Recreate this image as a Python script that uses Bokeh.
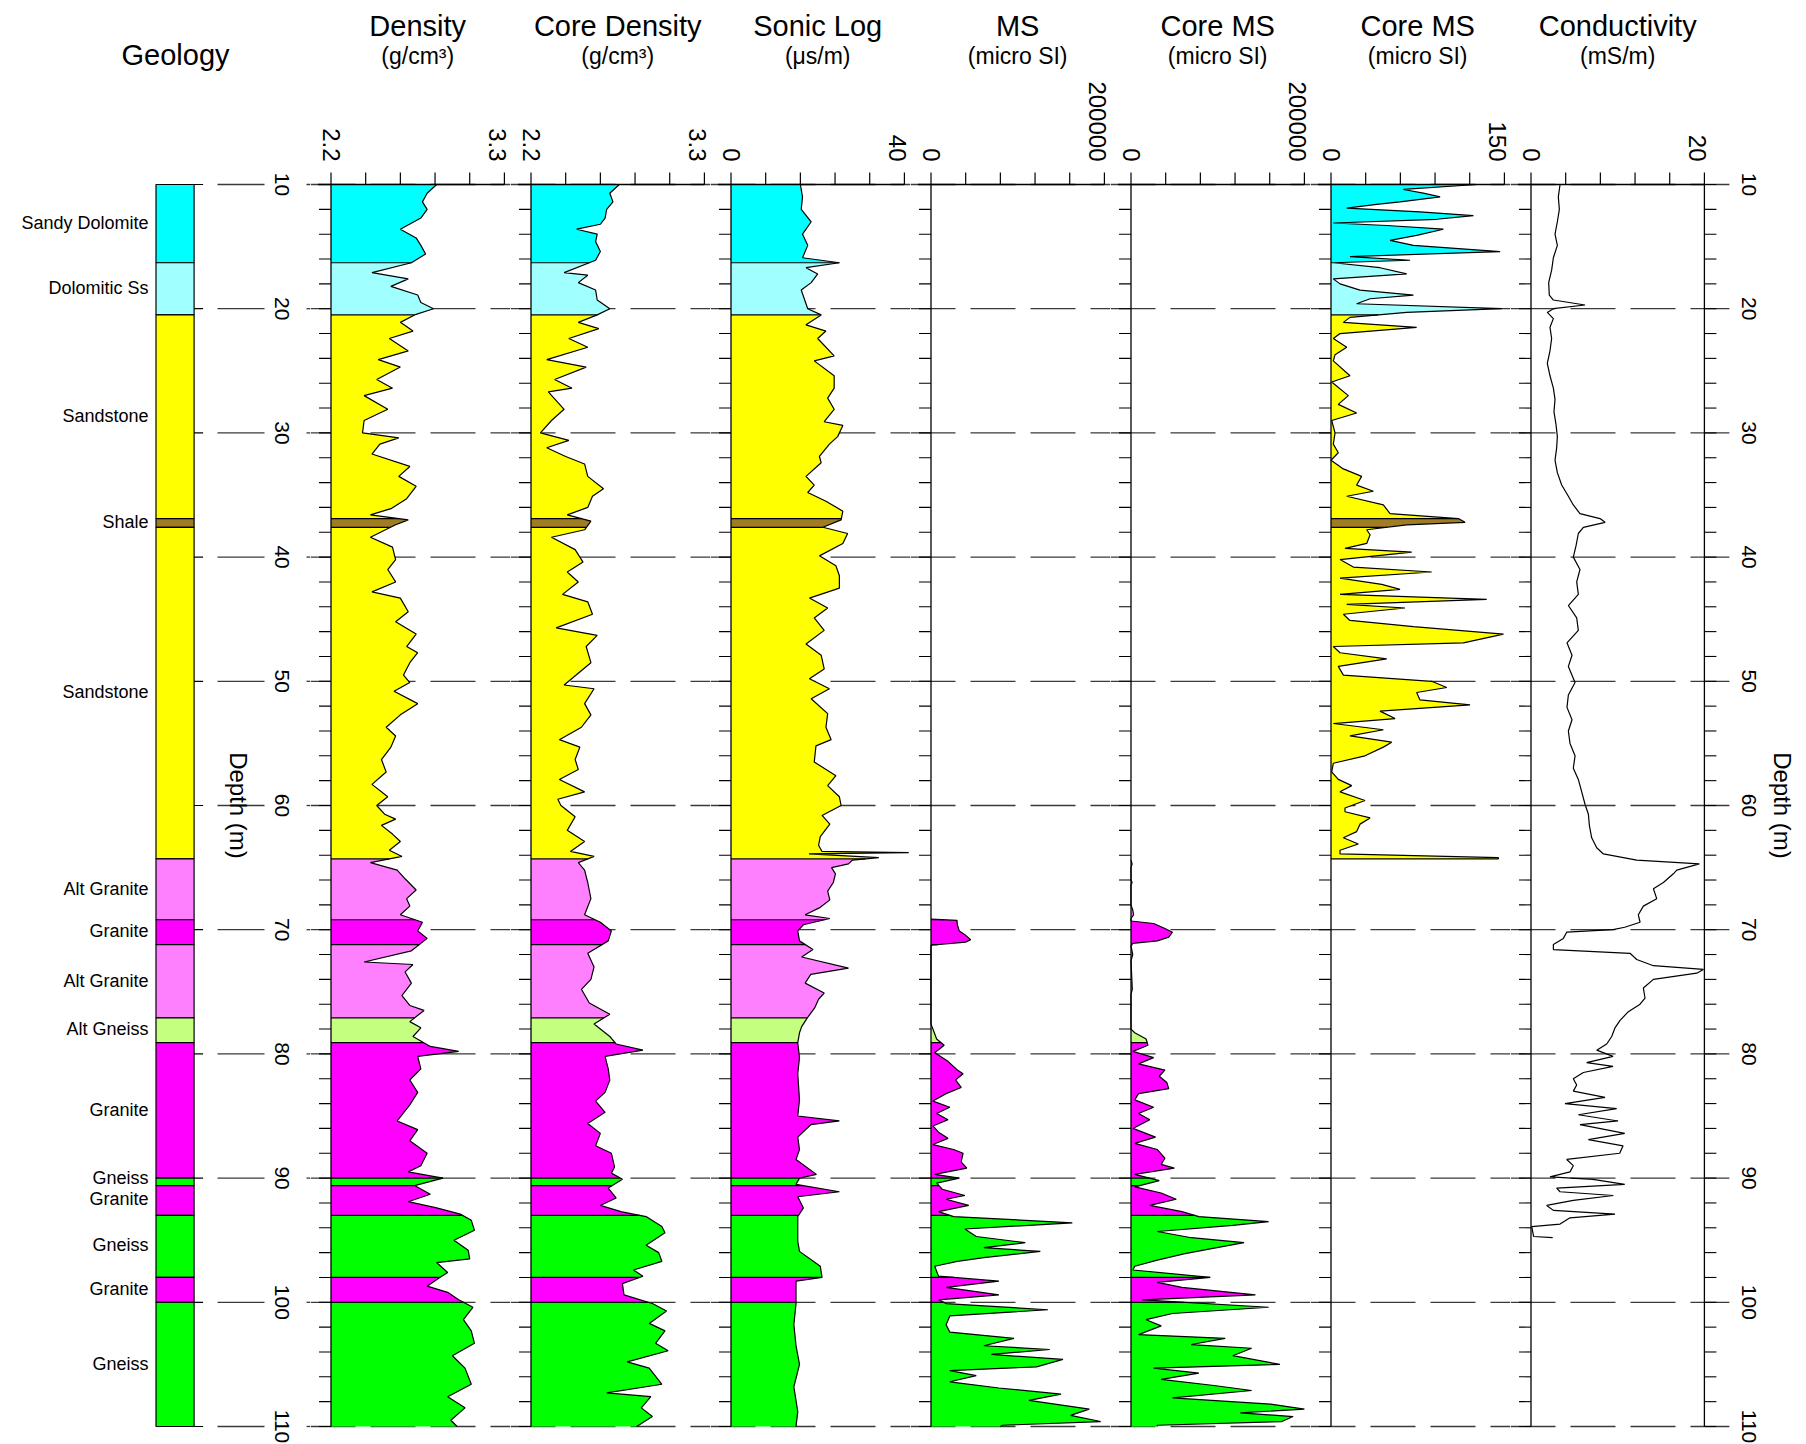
import numpy as np
from bokeh.plotting import figure
from bokeh.models import Range1d
from bokeh.layouts import row
from bokeh.embed import file_html
from bokeh.resources import INLINE
from bokeh.core.properties import value

# ---------------------------------------------------------------- data
geo_names = ["Sandy Dolomite", "Dolomitic Ss", "Sandstone", "Shale", "Sandstone",
             "Alt Granite", "Granite", "Alt Granite", "Alt Gneiss", "Granite",
             "Gneiss", "Granite", "Gneiss", "Granite", "Gneiss"]
geo_top = [10.0, 16.3, 20.5, 36.9, 37.6, 64.3, 69.2, 71.2, 77.1, 79.1, 90.0, 90.6, 93.0, 98.0, 100.0]
geo_bot = [16.3, 20.5, 36.9, 37.6, 64.3, 69.2, 71.2, 77.1, 79.1, 90.0, 90.6, 93.0, 98.0, 100.0, 110.0]
geo_label_depth = [13.1, 18.3, 28.6, 37.2, 50.9, 66.7, 70.1, 74.1, 78.0, 84.5, 90.0, 91.7, 95.4, 98.9, 105.0]
rock_colors = {"Sandy Dolomite": "#00FFFF", "Dolomitic Ss": "#A0FFFF", "Sandstone": "#FFFF00",
               "Shale": "#A07C22", "Alt Granite": "#FF80FF", "Granite": "#FF00FF",
               "Alt Gneiss": "#C4FF80", "Gneiss": "#00FF00"}

depth_ticks = [10, 20, 30, 40, 50, 60, 70, 80, 90, 100, 110]
depth_minor = list(range(10, 111, 2))

track_titles = ["Density", "Core Density", "Sonic Log", "MS", "Core MS", "Core MS", "Conductivity"]
track_units = ["(g/cm³)", "(g/cm³)", "(μs/m)", "(micro SI)", "(micro SI)", "(micro SI)", "(mS/m)"]
track_min = [2.2, 2.2, 0, 0, 0, 0, 0]
track_max = [3.3, 3.3, 40, 200000, 200000, 150, 20]
track_min_label = ["2.2", "2.2", "0", "0", "0", "0", "0"]
track_max_label = ["3.3", "3.3", "40", "200000", "200000", "150", "20"]

dens_depth = [10.0, 10.7, 11.4, 12.0, 12.7, 13.6, 14.3, 14.9, 15.6, 16.3,
              17.1, 17.6, 18.2, 18.9, 19.5, 20.0, 20.5, 21.1, 21.8, 22.4,
              23.4, 24.1, 24.7, 25.7, 26.4, 27.0, 28.1, 29.0, 30.0, 30.4,
              30.9, 31.7, 32.7, 33.5, 34.3, 35.3, 36.1, 36.6, 37.0, 37.4,
              38.4, 39.2, 40.2, 41.0, 42.0, 42.8, 43.3, 44.4, 45.2, 46.2,
              47.2, 47.7, 48.5, 49.5, 50.1, 50.8, 51.8, 52.7, 53.7, 54.4,
              55.3, 56.3, 57.3, 58.3, 59.3, 60.0, 60.7, 61.1, 61.6, 62.3,
              62.9, 63.6, 64.1, 64.6, 65.2, 65.9, 66.8, 67.5, 68.1, 68.8,
              69.4, 70.1, 70.7, 71.7, 72.6, 72.8, 73.4, 74.3, 75.3, 76.1,
              76.5, 77.4, 77.9, 78.6, 79.4, 79.8, 80.2, 81.2, 82.1, 83.1,
              84.1, 85.4, 86.1, 87.0, 88.0, 89.0, 89.5, 90.0, 90.6, 91.3,
              91.9, 92.4, 92.9, 93.4, 94.2, 95.0, 95.8, 96.5, 96.8, 97.6,
              98.0, 98.7, 99.2, 99.8, 100.4, 101.4, 102.3, 103.3, 104.3, 105.3,
              106.6, 107.6, 108.5, 109.5, 110.0]
dens_val = [2.87, 2.81, 2.78, 2.81, 2.77, 2.64, 2.74, 2.77, 2.80, 2.71,
            2.46, 2.69, 2.58, 2.75, 2.77, 2.85, 2.73, 2.64, 2.72, 2.57,
            2.69, 2.50, 2.64, 2.49, 2.59, 2.41, 2.56, 2.41, 2.40, 2.63,
            2.51, 2.46, 2.70, 2.63, 2.74, 2.68, 2.58, 2.45, 2.69, 2.61,
            2.45, 2.59, 2.61, 2.56, 2.61, 2.46, 2.64, 2.69, 2.61, 2.74,
            2.68, 2.75, 2.70, 2.66, 2.70, 2.60, 2.75, 2.64, 2.55, 2.61,
            2.58, 2.52, 2.55, 2.46, 2.56, 2.49, 2.54, 2.61, 2.52, 2.59,
            2.64, 2.57, 2.65, 2.45, 2.62, 2.67, 2.74, 2.68, 2.70, 2.64,
            2.78, 2.75, 2.81, 2.71, 2.41, 2.72, 2.67, 2.71, 2.65, 2.70,
            2.79, 2.70, 2.77, 2.72, 2.83, 3.01, 2.75, 2.77, 2.70, 2.75,
            2.70, 2.62, 2.75, 2.70, 2.81, 2.77, 2.69, 2.91, 2.73, 2.83,
            2.69, 2.87, 3.02, 3.09, 3.11, 2.98, 3.07, 3.08, 2.87, 2.94,
            2.89, 2.81, 2.94, 3.01, 3.10, 3.04, 3.09, 3.11, 2.97, 3.05,
            3.09, 2.94, 3.05, 2.96, 3.00]

cd_depth = [10.0, 10.7, 11.4, 12.0, 12.7, 13.2, 13.6, 14.0, 14.6, 15.4,
            16.1, 17.1, 17.3, 17.9, 18.5, 19.3, 20.0, 20.5, 21.1, 21.6,
            22.4, 23.1, 24.1, 24.7, 25.7, 26.4, 26.7, 28.1, 29.0, 30.0,
            30.6, 31.2, 31.9, 32.5, 33.5, 34.5, 35.1, 36.0, 36.6, 37.1,
            37.8, 38.4, 39.4, 40.4, 41.2, 42.0, 43.0, 43.6, 44.6, 45.7,
            46.3, 47.2, 48.5, 50.3, 50.6, 51.8, 52.7, 53.7, 54.7, 55.3,
            56.3, 57.1, 57.9, 58.9, 59.5, 60.0, 60.9, 62.0, 62.9, 63.7,
            64.1, 64.6, 65.2, 66.2, 67.5, 68.8, 69.4, 70.1, 70.9, 71.9,
            73.0, 74.0, 74.8, 75.9, 76.8, 77.6, 78.6, 79.2, 79.7, 80.2,
            81.2, 82.1, 83.1, 83.8, 84.7, 85.6, 86.4, 87.4, 88.0, 89.1,
            89.6, 90.1, 90.8, 91.6, 92.2, 92.7, 93.1, 93.9, 94.4, 95.4,
            96.0, 96.7, 97.4, 97.9, 98.5, 99.4, 100.1, 100.7, 101.7, 102.3,
            103.3, 103.9, 104.8, 105.3, 106.6, 107.3, 107.6, 108.5, 109.2, 110.0]
cd_val = [2.76, 2.70, 2.72, 2.68, 2.67, 2.64, 2.49, 2.62, 2.61, 2.64,
          2.61, 2.41, 2.56, 2.50, 2.61, 2.62, 2.70, 2.62, 2.50, 2.63,
          2.44, 2.56, 2.30, 2.55, 2.35, 2.46, 2.31, 2.41, 2.33, 2.26,
          2.44, 2.30, 2.42, 2.54, 2.56, 2.66, 2.59, 2.56, 2.43, 2.58,
          2.54, 2.33, 2.48, 2.53, 2.43, 2.50, 2.40, 2.56, 2.59, 2.36,
          2.62, 2.55, 2.58, 2.41, 2.60, 2.54, 2.58, 2.52, 2.38, 2.51,
          2.48, 2.50, 2.38, 2.54, 2.37, 2.39, 2.48, 2.43, 2.54, 2.45,
          2.60, 2.50, 2.54, 2.56, 2.58, 2.54, 2.64, 2.71, 2.69, 2.56,
          2.60, 2.58, 2.52, 2.57, 2.70, 2.60, 2.70, 2.74, 2.91, 2.67,
          2.69, 2.70, 2.67, 2.61, 2.67, 2.56, 2.64, 2.61, 2.71, 2.73,
          2.71, 2.78, 2.69, 2.74, 2.64, 2.77, 2.93, 3.03, 3.05, 2.93,
          3.01, 3.03, 2.85, 2.91, 2.78, 2.79, 2.97, 3.06, 2.95, 3.05,
          2.99, 3.07, 2.81, 2.95, 3.03, 2.68, 2.96, 2.90, 2.97, 2.87]

sonic_depth = [10.0, 11.0, 12.0, 13.0, 14.0, 14.9, 15.9, 16.3, 16.7, 17.2,
               17.9, 18.5, 19.2, 20.0, 20.5, 21.3, 21.8, 22.4, 23.8, 24.2,
               25.4, 26.4, 27.2, 28.1, 29.1, 29.4, 30.3, 30.9, 31.9, 32.4,
               33.5, 34.2, 34.8, 35.5, 36.3, 37.0, 37.6, 38.1, 38.9, 39.9,
               40.7, 41.5, 42.5, 43.3, 44.1, 44.9, 45.9, 47.0, 47.9, 49.0,
               49.8, 50.6, 51.4, 52.6, 53.7, 54.7, 55.2, 56.5, 57.6, 58.4,
               59.3, 60.0, 60.8, 61.5, 62.5, 63.2, 63.7, 63.8, 63.9, 64.2,
               64.4, 64.7, 65.0, 65.5, 66.2, 66.9, 67.6, 68.2, 68.8, 69.1,
               69.6, 70.1, 70.9, 71.6, 72.2, 73.1, 73.6, 74.3, 75.1, 75.6,
               76.3, 77.1, 77.8, 78.3, 79.1, 80.3, 81.6, 83.7, 85.0, 85.4,
               85.7, 86.7, 87.7, 88.5, 89.7, 90.0, 90.5, 91.1, 91.5, 92.4,
               93.1, 95.1, 95.9, 97.1, 98.0, 98.3, 100.1, 101.8, 103.5, 105.0,
               106.8, 108.8, 110.0]
sonic_val = [16.0, 16.5, 16.2, 18.5, 16.5, 17.7, 16.5, 25.0, 17.3, 20.0,
             18.5, 16.2, 16.9, 17.7, 20.8, 17.3, 21.9, 20.0, 23.8, 19.2,
             23.8, 23.8, 22.3, 23.8, 21.5, 25.8, 24.6, 22.7, 20.4, 20.8,
             17.3, 19.2, 17.7, 21.9, 25.8, 25.4, 21.2, 26.9, 25.8, 20.4,
             24.2, 25.0, 25.0, 18.1, 22.3, 19.2, 21.5, 17.3, 20.8, 21.5,
             18.1, 22.7, 18.5, 22.3, 21.9, 23.1, 19.6, 19.2, 24.2, 22.3,
             25.0, 25.4, 21.0, 22.8, 20.6, 20.2, 21.0, 41.0, 18.0, 34.1,
             28.0, 27.1, 23.2, 24.1, 23.6, 22.3, 22.8, 20.6, 17.1, 22.8,
             16.7, 15.4, 15.8, 18.9, 16.3, 27.1, 18.4, 17.1, 21.5, 20.2,
             19.3, 17.6, 16.3, 15.8, 15.4, 15.8, 15.4, 15.8, 15.4, 25.0,
             18.4, 15.4, 15.8, 15.0, 19.7, 15.8, 15.0, 25.0, 15.4, 16.7,
             15.4, 15.4, 15.8, 20.6, 21.0, 15.0, 15.0, 14.5, 15.0, 15.8,
             14.5, 15.4, 15.0]

ms_depth = [69.15, 69.25, 69.6, 70.1, 70.4, 70.8, 71.0, 71.25, 77.6, 78.0,
            78.8, 79.3, 79.9, 80.6, 81.3, 81.6, 82.1, 82.7, 83.2, 83.8,
            84.3, 84.8, 85.3, 85.8, 86.3, 86.8, 87.3, 87.7, 88.0, 88.7,
            89.2, 89.7, 90.0, 90.4, 90.9, 91.4, 91.7, 92.2, 92.7, 93.1,
            93.6, 94.1, 94.7, 95.2, 95.6, 95.9, 96.4, 96.7, 97.1, 97.9,
            98.3, 98.8, 99.4, 99.8, 100.1, 100.6, 101.1, 101.8, 102.4, 102.9,
            103.5, 103.8, 104.2, 104.6, 105.2, 105.5, 105.9, 106.4, 106.9, 107.4,
            107.9, 108.6, 109.1, 109.6, 109.9, 110.0]
ms_val = [0, 30000, 30400, 32600, 39100, 45700, 40000, 0, 0, 2200,
          6500, 15200, 4300, 19600, 30400, 37000, 28300, 34800, 17400, 2200,
          21700, 6500, 19600, 2200, 8700, 19600, 2200, 26100, 37000, 34800,
          41300, 4300, 32600, 6500, 13000, 39100, 17400, 43500, 8700, 26100,
          163000, 39100, 52200, 108700, 60900, 126100, 60900, 30400, 4300, 8700,
          78300, 17400, 78300, 8700, 17400, 134800, 21700, 17400, 21700, 95700,
          60900, 137000, 69600, 152200, 121700, 21700, 52200, 21700, 78300, 150000,
          113000, 182600, 160900, 195700, 82600, 80000]

cms_depth = [64.4, 64.7, 65.0, 66.0, 66.2, 66.4, 68.0, 68.4, 68.8, 69.1,
             69.3, 69.5, 69.9, 70.2, 70.6, 70.9, 71.1, 71.3, 72.0, 72.5,
             74.8, 75.2, 78.0, 78.3, 78.8, 79.3, 79.8, 80.3, 80.8, 81.3,
             81.8, 82.3, 82.8, 83.2, 83.7, 84.3, 84.8, 85.3, 86.0, 86.7,
             87.2, 87.7, 88.4, 88.9, 89.2, 89.7, 90.2, 90.7, 91.2, 91.7,
             92.2, 92.7, 93.1, 93.5, 93.8, 94.3, 94.8, 95.2, 95.7, 96.1,
             96.6, 97.1, 97.4, 98.0, 98.4, 98.8, 99.4, 99.8, 100.4, 100.9,
             101.4, 101.9, 102.6, 102.9, 103.4, 103.7, 104.3, 105.0, 105.3, 105.7,
             106.2, 106.7, 107.1, 107.7, 108.2, 108.6, 108.9, 109.2, 109.6, 109.9,
             110.0]
cms_val = [0, 1300, 0, 0, 1300, 0, 0, 2000, 3000, 0,
           0, 26100, 39100, 47800, 43500, 30400, 2000, 0, 2000, 0,
           1500, 0, 0, 4300, 17400, 19600, 2200, 26100, 8700, 39100,
           32600, 41300, 43500, 8700, 4300, 26100, 8700, 21700, 2200, 28300,
           4300, 30400, 39100, 34800, 50000, 4300, 32600, 4300, 34800, 52200,
           21700, 58700, 78300, 158700, 117400, 30400, 69600, 130400, 91300, 60900,
           30400, 4300, 2200, 91300, 30400, 58700, 143500, 13000, 158700, 47800,
           17400, 34800, 8700, 108700, 69600, 139100, 117400, 171700, 26100, 78300,
           34800, 95700, 139100, 47800, 160900, 200000, 126100, 187000, 173900, 30400,
           30000]

cms2_depth = [10.0, 10.4, 10.7, 11.0, 11.4, 11.6, 11.9, 12.2, 12.5, 12.8,
              13.1, 13.3, 13.6, 14.1, 14.5, 14.9, 15.4, 15.8, 16.1, 16.3,
              16.7, 17.2, 17.6, 18.0, 18.5, 18.9, 19.2, 19.6, 20.0, 20.3,
              20.7, 21.1, 21.5, 22.0, 22.4, 23.1, 23.7, 24.2, 25.4, 25.9,
              27.0, 27.7, 28.4, 29.0, 30.0, 30.9, 31.6, 32.2, 32.9, 33.5,
              34.2, 34.7, 35.1, 35.8, 36.5, 36.9, 37.2, 37.4, 37.8, 38.2,
              38.9, 39.3, 39.6, 40.2, 40.8, 41.2, 41.7, 42.2, 42.6, 43.0,
              43.4, 43.8, 44.1, 44.6, 45.1, 45.6, 46.2, 46.9, 47.2, 47.7,
              48.2, 48.8, 49.5, 50.0, 50.5, 50.9, 51.5, 51.9, 52.4, 53.0,
              53.4, 53.9, 54.4, 54.9, 55.3, 56.0, 56.6, 57.3, 57.9, 58.4,
              58.9, 59.6, 60.2, 60.5, 61.0, 61.5, 62.1, 62.6, 63.1, 63.6,
              63.9, 64.2, 64.3]
cms2_val = [126.0, 62.6, 79.9, 94.4, 59.7, 39.5, 13.6, 77.0, 123.2, 91.5,
            2.0, 48.2, 97.2, 74.1, 51.1, 71.3, 146.3, 16.4, 68.4, 2.0,
            42.4, 65.5, 2.0, 7.8, 25.1, 71.3, 33.8, 22.2, 147.7, 65.5,
            16.4, 10.7, 74.1, 7.8, 2.0, 13.6, 3.5, 2.0, 16.4, 0.6,
            15.0, 6.3, 22.2, 0.6, 3.5, 2.0, 6.3, 0.0, 10.7, 26.5,
            22.2, 36.6, 13.6, 45.3, 51.1, 110.2, 116.0, 65.5, 30.9, 33.8,
            30.9, 12.1, 69.8, 7.8, 19.3, 87.1, 7.8, 43.9, 59.7, 7.8,
            134.7, 13.6, 64.0, 10.7, 16.4, 71.3, 149.2, 114.5, 2.0, 7.8,
            48.2, 6.3, 10.7, 87.1, 100.1, 74.1, 77.0, 120.3, 42.4, 55.4,
            2.0, 45.3, 16.4, 52.5, 45.3, 29.4, 2.0, 0.6, 6.3, 17.9,
            7.8, 29.4, 12.1, 12.1, 33.8, 25.1, 22.2, 10.7, 23.6, 7.8,
            7.8, 144.8, 144.8]

cond_depth = [10.0, 11.0, 12.0, 13.0, 14.0, 14.9, 15.9, 16.9, 17.9, 18.9,
              19.3, 19.7, 20.0, 20.3, 20.8, 21.5, 22.4, 23.4, 24.4, 25.4,
              26.4, 27.3, 28.3, 29.3, 30.3, 31.2, 32.2, 33.2, 34.2, 35.1,
              35.8, 36.5, 36.9, 37.2, 37.6, 38.1, 39.1, 40.0, 41.0, 42.0,
              43.0, 43.9, 44.9, 45.9, 46.9, 47.9, 48.8, 50.1, 51.1, 52.1,
              53.1, 54.0, 55.0, 56.0, 57.0, 57.9, 58.9, 59.9, 60.7, 61.6,
              62.6, 63.4, 63.9, 64.4, 64.7, 65.2, 65.5, 66.2, 66.7, 67.5,
              68.1, 68.8, 69.4, 69.8, 70.0, 70.2, 70.7, 71.2, 71.6, 71.9,
              72.4, 72.9, 73.2, 73.5, 74.0, 74.7, 75.5, 76.0, 76.6, 77.3,
              77.9, 78.6, 79.2, 79.7, 80.2, 80.7, 81.0, 81.5, 82.0, 82.5,
              83.0, 83.5, 84.0, 84.4, 84.9, 85.4, 85.7, 86.4, 86.9, 87.4,
              88.0, 88.5, 89.0, 89.5, 89.9, 90.1, 90.5, 90.8, 91.1, 91.4,
              91.8, 92.2, 92.6, 92.9, 93.2, 93.7, 93.9, 94.7, 94.8]
cond_val = [3.35, 3.15, 3.27, 3.04, 2.77, 3.04, 2.58, 2.38, 2.04, 2.11,
            2.58, 6.23, 2.58, 1.88, 2.58, 2.19, 2.38, 2.19, 1.88, 2.19,
            2.58, 2.77, 2.65, 2.88, 3.04, 2.96, 2.77, 3.04, 3.54, 4.31,
            4.88, 5.65, 7.96, 8.54, 6.04, 5.46, 5.19, 4.88, 5.65, 5.27,
            5.46, 4.31, 5.27, 5.46, 4.15, 4.73, 4.31, 5.08, 4.31, 4.15,
            4.73, 4.31, 4.50, 5.08, 4.88, 5.46, 5.85, 6.23, 6.62, 6.73,
            7.00, 7.58, 8.35, 12.19, 19.42, 16.81, 16.42, 15.27, 14.12, 14.50,
            12.96, 12.38, 12.58, 10.81, 9.46, 4.12, 3.73, 2.58, 2.58, 11.42,
            12.19, 14.12, 19.89, 19.12, 14.12, 12.96, 13.15, 12.58, 11.23, 10.27,
            9.69, 9.31, 8.73, 7.58, 9.46, 6.42, 9.46, 6.04, 4.88, 5.27,
            4.88, 8.54, 3.92, 9.88, 5.46, 10.04, 5.65, 10.81, 6.62, 10.62,
            10.23, 4.12, 4.88, 4.50, 2.19, 7.15, 10.81, 2.96, 3.35, 9.50,
            4.88, 1.81, 2.58, 9.69, 4.50, 3.35, 0.08, 0.30, 2.50]

track_depths = [dens_depth, cd_depth, sonic_depth, ms_depth, cms_depth, cms2_depth, cond_depth]
track_values = [dens_val, cd_val, sonic_val, ms_val, cms_val, cms2_val, cond_val]
track_filled = [True, True, True, True, True, True, False]

# ---------------------------------------------------------------- layout / style
FONT = value("Liberation Sans")
FIG_H = 1444
TOP_PX = 184.0          # figure pixel row of depth 10
PX_PER_M = 12.42
W0 = 310                # geology panel width
TRACK_W = 200
LAST_W = 294
LEFT_OFF = 20.5         # track min line offset inside its figure
TRACK_PX = 173.4        # track width in pixels
TICK = 12


def depth_at(py):
    return 10.0 + (py - TOP_PX) / PX_PER_M


Y_TOP, Y_BOT = depth_at(0), depth_at(FIG_H)


def base_fig(width, xr):
    p = figure(width=width, height=FIG_H, x_range=xr, y_range=Range1d(Y_BOT, Y_TOP),
               output_backend="svg", toolbar_location=None, min_border=0,
               x_axis_type=None, y_axis_type=None, outline_line_color=None)
    p.background_fill_color = "white"
    p.border_fill_color = "white"
    return p


figs = []

# ---------------- geology panel
g = base_fig(W0, Range1d(0, W0))
box_l, box_r = 155.5, 193.6
g.quad(left=box_l, right=box_r, top=geo_top, bottom=geo_bot,
       fill_color=[rock_colors[n] for n in geo_names], line_color="black", line_width=1.2)
nt = len(depth_ticks)
g.segment(x0=[box_r] * nt, y0=depth_ticks, x1=[box_r + 9] * nt,
          y1=depth_ticks, line_color="black", line_width=1.2)
g.text(x=[148] * len(geo_names), y=geo_label_depth, text=geo_names, text_font=FONT,
       text_font_size="18px", text_align="right", text_baseline="middle", text_color="black")
g.text(x=[175], y=[depth_at(54)], text=["Geology"], text_font=FONT, text_font_size="29px",
       text_align="center", text_baseline="alphabetic", text_color="black")
g.segment(x0=[217] * nt, y0=depth_ticks, x1=[264] * nt,
          y1=depth_ticks, line_color="#3a3a3a", line_width=1.3)
g.segment(x0=[306] * nt, y0=depth_ticks, x1=[W0] * nt,
          y1=depth_ticks, line_color="#3a3a3a", line_width=1.3)
g.text(x=[281.5] * nt, y=depth_ticks, text=[str(d) for d in depth_ticks],
       angle=-np.pi / 2, text_font=FONT, text_font_size="21px", text_align="center",
       text_baseline="alphabetic", text_color="black")
g.text(x=[238], y=[60], text=["Depth (m)"], angle=-np.pi / 2, text_font=FONT,
       text_font_size="24px", text_align="center", text_baseline="alphabetic", text_color="black")
figs.append(g)

# ---------------- tracks
for k in range(7):
    W = TRACK_W if k < 6 else LAST_W
    vmin, vmax = track_min[k], track_max[k]
    s = (vmax - vmin) / TRACK_PX
    x0 = vmin - LEFT_OFF * s
    p = base_fig(W, Range1d(x0, x0 + W * s))

    def X(px):
        return x0 + px * s

    gx1 = X(W) if k < 6 else vmax + 25 * s
    p.segment(x0=[X(0)] * nt, y0=depth_ticks, x1=[gx1] * nt, y1=depth_ticks,
              line_dash="45 15", line_color="#3a3a3a", line_width=1.3)

    d = np.asarray(track_depths[k], float)
    v = np.asarray(track_values[k], float)
    if track_filled[k]:
        for name, t, b in zip(geo_names, geo_top, geo_bot):
            t2, b2 = max(t, d.min()), min(b, d.max())
            if b2 <= t2:
                continue
            m = (d > t2) & (d < b2)
            ys = np.concatenate([[t2], d[m], [b2]])
            xs = np.interp(ys, d, v)
            p.harea(x1=np.full(len(ys), float(vmin)), x2=xs, y=ys, fill_color=rock_colors[name])
        bd = [t for t in geo_top[1:] if d.min() < t < d.max()]
        if d.max() < 110:
            bd.append(d.max())
        if bd:
            bx = np.interp(bd, d, v)
            p.segment(x0=[vmin] * len(bd), y0=bd, x1=bx, y1=bd, line_color="black", line_width=1.2)
    p.line(v, d, line_color="black", line_width=1.2)

    # left axis with minor ticks
    p.segment(x0=[vmin], y0=[10], x1=[vmin], y1=[110], line_color="black", line_width=1.3)
    nm = len(depth_minor)
    p.segment(x0=[X(LEFT_OFF - TICK)] * nm, y0=depth_minor, x1=[vmin] * nm, y1=depth_minor,
              line_color="black", line_width=1.1)
    # top axis
    p.segment(x0=[X(LEFT_OFF - 13)], y0=[10], x1=[vmax], y1=[10], line_color="black", line_width=1.3)
    tx = list(np.linspace(vmin, vmax, 6))
    p.segment(x0=tx, y0=[10] * 6, x1=tx, y1=[depth_at(TOP_PX - TICK)] * 6,
              line_color="black", line_width=1.2)
    ly = depth_at(161)
    p.text(x=[vmin], y=[ly], text=[track_min_label[k]], angle=-np.pi / 2, text_font=FONT,
           text_font_size="24px", text_align="right", text_baseline="alphabetic", text_color="black")
    p.text(x=[X(LEFT_OFF + TRACK_PX + 2)], y=[ly], text=[track_max_label[k]], angle=-np.pi / 2,
           text_font=FONT, text_font_size="24px", text_align="right", text_baseline="top",
           text_color="black")
    cx = (vmin + vmax) / 2
    p.text(x=[cx], y=[depth_at(25)], text=[track_titles[k]], text_font=FONT, text_font_size="29px",
           text_align="center", text_baseline="alphabetic", text_color="black")
    p.text(x=[cx], y=[depth_at(55)], text=[track_units[k]], text_font=FONT, text_font_size="23px",
           text_align="center", text_baseline="alphabetic", text_color="black")

    if k == 6:
        p.segment(x0=[vmax], y0=[10], x1=[vmax], y1=[110], line_color="black", line_width=1.3)
        p.segment(x0=[vmax] * nm, y0=depth_minor, x1=[vmax + TICK * s] * nm, y1=depth_minor,
                  line_color="black", line_width=1.1)
        p.text(x=[X(238)] * nt, y=depth_ticks, text=[str(dd) for dd in depth_ticks],
               angle=-np.pi / 2, text_font=FONT, text_font_size="21px", text_align="center",
               text_baseline="alphabetic", text_color="black")
        p.text(x=[X(272)], y=[60], text=["Depth (m)"], angle=-np.pi / 2, text_font=FONT,
               text_font_size="24px", text_align="center", text_baseline="alphabetic",
               text_color="black")
    figs.append(p)

layout = row(*figs)
open("out.html", "w").write(file_html(layout, INLINE))
